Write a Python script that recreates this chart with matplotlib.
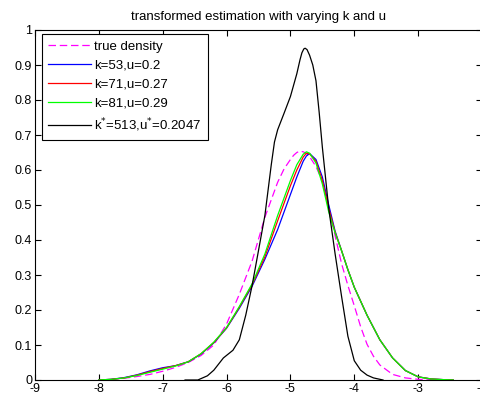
import matplotlib
matplotlib.use("Agg")
import matplotlib.pyplot as plt

plt.rcParams['font.family'] = ['Liberation Sans', 'DejaVu Sans']

title = "transformed estimation with varying k and u"
xticks = [-9, -8, -7, -6, -5, -4, -3, -2]
yticks = [0, 0.1, 0.2, 0.3, 0.4, 0.5, 0.6, 0.7, 0.8, 0.9, 1]
ytick_labels = ["0", "0.1", "0.2", "0.3", "0.4", "0.5", "0.6", "0.7", "0.8", "0.9", "1"]

# true density (magenta dashed)
true_x = [-7.8, -7.6, -7.4, -7.2, -7.0, -6.8, -6.6, -6.4, -6.2, -6.0, -5.8, -5.6, -5.4, -5.2,
          -5.1, -5.0, -4.95, -4.9, -4.85, -4.8, -4.75, -4.7, -4.6, -4.5, -4.4, -4.3, -4.2, -4.1,
          -4.0, -3.9, -3.8, -3.7, -3.6, -3.4, -3.2, -3.0, -2.8]
true_y = [0.002, 0.005, 0.010, 0.016, 0.025, 0.036, 0.050, 0.070, 0.100, 0.160, 0.245, 0.340,
          0.465, 0.565, 0.603, 0.630, 0.642, 0.650, 0.654, 0.652, 0.647, 0.638, 0.610, 0.568,
          0.495, 0.412, 0.333, 0.270, 0.212, 0.152, 0.102, 0.068, 0.043, 0.016, 0.006, 0.002, 0.0]

kde_x = [-8.0, -7.8, -7.6, -7.4, -7.2, -7.0, -6.8, -6.6, -6.4, -6.2, -6.0, -5.8, -5.6, -5.4,
         -5.2, -5.0, -4.9, -4.8, -4.75, -4.7, -4.6, -4.5, -4.4, -4.3, -4.2, -4.1, -4.0, -3.8,
         -3.6, -3.4, -3.2, -3.0, -2.8, -2.6, -2.45]
# k=53, u=0.2 (blue)
k53_y = [0.0, 0.002, 0.007, 0.015, 0.026, 0.035, 0.041, 0.052, 0.074, 0.106, 0.148, 0.205, 0.268,
         0.345, 0.430, 0.530, 0.580, 0.625, 0.640, 0.647, 0.630, 0.580, 0.500, 0.425, 0.370,
         0.315, 0.265, 0.185, 0.115, 0.063, 0.027, 0.009, 0.003, 0.001, 0.0]
# k=71, u=0.27 (red)
k71_y = [0.0, 0.002, 0.006, 0.014, 0.024, 0.033, 0.041, 0.052, 0.075, 0.107, 0.149, 0.208, 0.272,
         0.352, 0.455, 0.555, 0.600, 0.637, 0.648, 0.646, 0.625, 0.570, 0.490, 0.422, 0.370,
         0.315, 0.265, 0.185, 0.115, 0.063, 0.027, 0.009, 0.003, 0.001, 0.0]
# k=81, u=0.29 (green)
k81_y = [0.0, 0.002, 0.006, 0.013, 0.022, 0.031, 0.040, 0.052, 0.075, 0.108, 0.150, 0.210, 0.275,
         0.360, 0.470, 0.570, 0.615, 0.645, 0.652, 0.648, 0.620, 0.560, 0.480, 0.420, 0.370,
         0.315, 0.265, 0.185, 0.115, 0.063, 0.027, 0.009, 0.003, 0.001, 0.0]

# k*=513, u*=0.2047 (black)
opt_x = [-6.65, -6.45, -6.3, -6.2, -6.05, -5.9, -5.8, -5.7, -5.6, -5.5, -5.4, -5.3, -5.25, -5.2,
         -5.1, -5.0, -4.9, -4.85, -4.82, -4.79, -4.77, -4.74, -4.7, -4.65, -4.6, -4.55, -4.5,
         -4.4, -4.3, -4.2, -4.1, -4.0, -3.9, -3.8, -3.7, -3.55]
opt_y = [0.0, 0.0, 0.012, 0.028, 0.063, 0.085, 0.115, 0.185, 0.270, 0.370, 0.470, 0.615, 0.680,
         0.715, 0.762, 0.810, 0.875, 0.915, 0.935, 0.946, 0.948, 0.944, 0.928, 0.900, 0.855,
         0.765, 0.665, 0.490, 0.360, 0.240, 0.125, 0.055, 0.028, 0.014, 0.006, 0.0]

fig = plt.figure(figsize=(4.81, 3.99), dpi=100)
ax = fig.add_axes([35 / 481, 1 - 380 / 399, 447 / 481, 350 / 399])

lw = 0.9
ax.plot(true_x, true_y, color='#ff00ff', linestyle=(0, (6, 3)), lw=lw, label='true density')
ax.plot(kde_x, k53_y, color='#0000ff', lw=lw, label='k=53,u=0.2')
ax.plot(kde_x, k71_y, color='#ff0000', lw=lw, label='k=71,u=0.27')
ax.plot(kde_x, k81_y, color='#00ff00', lw=lw, label='k=81,u=0.29')
ax.plot(opt_x, opt_y, color='#000000', lw=lw, label='k$^{*}$=513,u$^{*}$=0.2047')

ax.set_xlim(-9, -2)
ax.set_ylim(0, 1)
ax.set_xticks(xticks)
ax.set_xticklabels([str(t) for t in xticks])
ax.set_yticks(yticks)
ax.set_yticklabels(ytick_labels)
ax.tick_params(direction='in', top=True, right=True, length=4, width=0.8, labelsize=9, pad=2)
for s in ax.spines.values():
    s.set_linewidth(0.8)

ax.set_title(title, fontsize=9.5, pad=7)

leg = ax.legend(loc='upper left', bbox_to_anchor=(0.015, 0.988), fontsize=9.5,
                frameon=True, fancybox=False, edgecolor='black', framealpha=1,
                handlelength=3.2, handletextpad=0.25, labelspacing=0.5, borderpad=0.5,
                borderaxespad=0)
leg.get_frame().set_linewidth(0.8)

fig.savefig('out.png', dpi=100)
